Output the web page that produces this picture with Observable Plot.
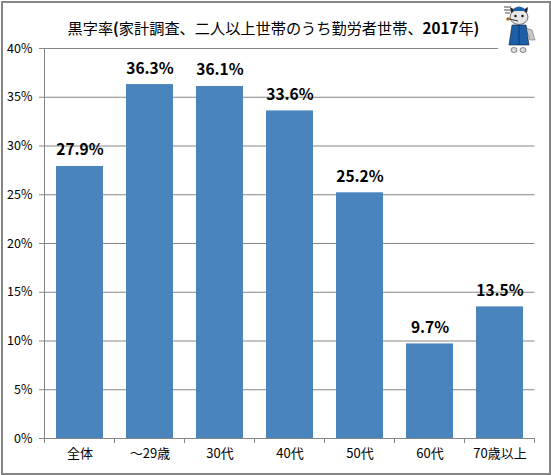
<!DOCTYPE html>
<html><head><meta charset="utf-8">
<script src="https://cdn.jsdelivr.net/npm/d3@7"></script>
<script src="https://cdn.jsdelivr.net/npm/@observablehq/plot@0.6"></script>
<style>
html,body{margin:0;padding:0;background:#fff}
#c{position:relative;width:551px;height:475px;overflow:hidden}
#c>svg{display:block;position:absolute;left:0;top:0}
#frame{position:absolute;left:1px;top:1px;width:546px;height:470px;border:2px solid #868686;pointer-events:none}
</style></head><body><div id="c"></div>
<script>
const categories = ["全体","～29歳","30代","40代","50代","60代","70歳以上"];
const values = [27.9,36.3,36.1,33.6,25.2,9.7,13.5];
const yTicks = [0,5,10,15,20,25,30,35,40];
const titleParts = [["黒字率",400],["(",700],["家計調査、二人以上世帯のうち勤労者世帯、",400],["2017",700],["年",400],[")",700]];
const rows = categories.map((c,i)=>({c,v:values[i]}));
const gray = "#868686";
const font = "'Noto Sans CJK JP','DejaVu Sans',sans-serif";
const plot = Plot.plot({
  width:551,height:475,
  marginLeft:44,marginRight:16.5,marginTop:48,marginBottom:37,
  style:{fontFamily:font,background:"transparent",overflow:"visible"},
  x:{domain:categories,paddingInner:0.33,paddingOuter:0.165,align:0.5,label:null},
  y:{domain:[0,40],label:null},
  marks:[
    Plot.gridY(yTicks,{stroke:gray,strokeOpacity:1,strokeWidth:1}),
    Plot.barY(rows,{x:"c",y:"v",fill:"#4a84bd"}),
    Plot.axisY(yTicks,{tickFormat:d=>d+"%",tickSize:5,tickPadding:7,fontSize:12.5,stroke:gray,color:"#000"}),
    (index,{x,y})=>{
      const g=d3.create("svg:g").attr("stroke",gray).attr("shape-rendering","crispEdges");
      const step=x.step?x.step():70, bw=x.bandwidth();
      const left=x(categories[0])-(step-bw)/2, y0=y(0), y1=y(40);
      g.append("line").attr("x1",left).attr("x2",left).attr("y1",y1).attr("y2",y0+5);
      g.append("line").attr("x1",left).attr("x2",left+step*categories.length).attr("y1",y0).attr("y2",y0);
      categories.forEach((c,i)=>{const p=left+step*(i+1);
        g.append("line").attr("x1",p).attr("x2",p).attr("y1",y0).attr("y2",y0+5);});
      return g.node();
    },
    Plot.axisX({tickSize:0,tickPadding:10,fontSize:13,color:"#000",label:null}),
    Plot.text(rows,{x:"c",y:"v",text:d=>d.v.toFixed(1)+"%",dy:-16,fontSize:15.5,fontWeight:"bold",fill:"#000"}),
    Plot.text([titleParts.map(d=>d[0]).join("")],{frameAnchor:"top-left",dx:23,dy:-25,fontSize:15.2,fill:"#000",textAnchor:"start",className:"ttl"})
  ]
});
document.getElementById("c").append(plot);
// mixed weights in the title, as in the reference
const t=plot.querySelector(".ttl text");
if(t){t.textContent="";titleParts.forEach(([s,w])=>{const sp=document.createElementNS("http://www.w3.org/2000/svg","tspan");sp.textContent=s;sp.setAttribute("font-weight",w);t.append(sp);});}
// small mascot ornament in the top-right corner
const mascot=`<svg xmlns="http://www.w3.org/2000/svg" width="38" height="50" viewBox="0 0 38 50" style="position:absolute;left:498px;top:3px">
<rect width="38" height="50" fill="#fff"/>
<g transform="translate(4,1)">
<path d="M17 22 L30 26 L33 36 L28 36 L26 30 Z" fill="#c8c8c8" stroke="#555" stroke-width=".5"/>
<ellipse cx="12" cy="46" rx="3" ry="2.5" fill="#ddd" stroke="#444" stroke-width=".6"/>
<ellipse cx="21" cy="46" rx="3" ry="2.5" fill="#ddd" stroke="#444" stroke-width=".6"/>
<path d="M10 21 H24 L27 41 H7 Z" fill="#1c5fa8" stroke="#123" stroke-width=".6"/>
<path d="M17 21 V41" stroke="#0b2f66" stroke-width=".8"/>
<ellipse cx="17" cy="13" rx="9" ry="7.5" fill="#e6e6e6" stroke="#333" stroke-width=".7"/>
<path d="M9 9 L8 3 L13 6 Z M25 9 L26 3 L21 6 Z" fill="#222"/>
<path d="M11 5 Q17 0 23 5 V7 H11 Z" fill="#1c5fa8"/>
<circle cx="13.500" cy="12" r="1.2" fill="#111"/><circle cx="20.500" cy="12" r="1.200" fill="#111"/>
<path d="M16 17 L7 15" stroke="#333" stroke-width="1"/>
<circle cx="6" cy="15" r="1.800" fill="#b5651d"/>
<path d="M2 3 H9 M2 6 H9 M3 9 H8" stroke="#888" stroke-width="1.300"/>
</g>
</svg>`;
document.getElementById("c").insertAdjacentHTML("beforeend",mascot);
const f=document.createElement("div");f.id="frame";document.getElementById("c").append(f);
</script></body></html>
